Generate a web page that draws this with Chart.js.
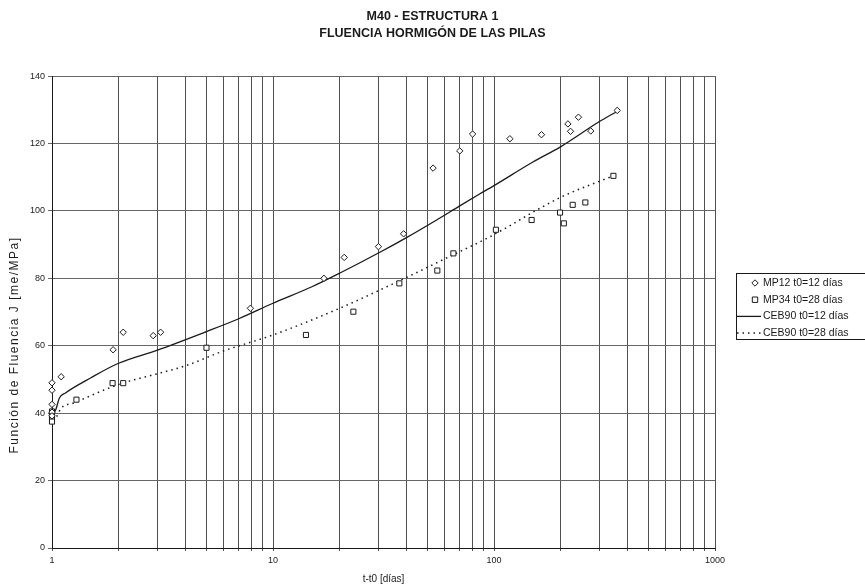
<!DOCTYPE html>
<html>
<head>
<meta charset="utf-8">
<script src="https://cdn.jsdelivr.net/npm/chart.js@4.4.1/dist/chart.umd.min.js"></script>
<style>
  html, body { margin: 0; padding: 0; background: #fff; }
  #wrap { width: 865px; height: 585px; }
</style>
</head>
<body>
<div id="wrap"><canvas id="fluencia"></canvas></div>
<script>
// MP12 t0=12 días (diamonds)
const mp12T = [1.0, 1.0, 1.0, 1.0, 1.0, 1.1, 1.89, 2.1, 2.87, 3.1, 7.9, 17, 21, 30, 39, 53, 70, 80, 118, 164, 216, 222, 241, 274, 361];
const mp12J = [49, 46.8, 42.6, 40.3, 39.2, 50.8, 58.8, 64, 63, 64, 71.1, 80, 86.2, 89.4, 93.2, 112.7, 117.8, 122.8, 121.4, 122.6, 125.8, 123.6, 127.8, 123.7, 129.8];

// MP34 t0=28 días (squares)
const mp34T = [1.0, 1.0, 1.0, 1.0, 1.29, 1.88, 2.1, 5.0, 14.1, 23.1, 37.3, 55.4, 65.5, 102, 148, 199, 207, 227, 259, 347];
const mp34J = [40.5, 39.5, 38.6, 37.5, 44, 48.9, 48.9, 59.4, 63.2, 70.1, 78.5, 82.3, 87.4, 94.4, 97.3, 99.5, 96.3, 101.8, 102.5, 110.4];

// CEB90 t0=12 días (solid line)
const ceb12T = [1.0, 1.04, 1.08, 1.15, 1.5, 2, 3, 5, 7, 10, 15, 20, 30, 40, 55, 70, 86, 100, 150, 200, 300, 360];
const ceb12J = [39.5, 41, 44.5, 46, 50.5, 54.8, 58.7, 64.2, 68, 72.6, 77.5, 81.5, 87.5, 92, 97.3, 101.5, 105, 107.5, 114.5, 119, 126.5, 129.5];

// CEB90 t0=28 días (dotted line)
const ceb28T = [1.05, 1.1, 1.25, 2, 3, 4, 6, 10, 20, 38, 60, 95, 200, 350];
const ceb28J = [39, 41.5, 43, 48.5, 51.7, 54, 58.5, 63.2, 71.1, 79.5, 85.8, 92.2, 104, 110.5];

const seriesLabels = ['MP12 t0=12 días', 'MP34 t0=28 días', 'CEB90 t0=12 días', 'CEB90 t0=28 días'];
const xLabels = [1, 10, 100, 1000];
const yTicks = [0, 20, 40, 60, 80, 100, 120, 140];
const titleLines = ['M40 - ESTRUCTURA 1', 'FLUENCIA HORMIGÓN DE LAS PILAS'];
const yAxisTitle = 'Función de Fluencia J [me/MPa]';

const ink = '#1a1a1a';
const fontFam = '"Liberation Sans", Arial, sans-serif';

const pts = (t, j) => t.map((v, i) => ({ x: v, y: j[i] }));

// every log gridline 1,2,...,9,10,20,...,1000
const gridValues = [];
for (let d = 1; d < 1000; d *= 10) {
  for (let k = 1; k < 10; k++) gridValues.push(k * d);
}
gridValues.push(1000);

// title centred on the whole page, not just the plot
const wideTitle = {
  id: 'wideTitle',
  afterLayout(chart) {
    const t = chart.titleBlock;
    if (t) {
      t.left = 0;
      t.right = chart.width;
      t.width = chart.width;
    }
  }
};

// y axis title sits a bit low and spread out in the original
const yTitle = {
  id: 'yTitle',
  afterDraw(chart, args, opts) {
    const ctx = chart.ctx;
    ctx.save();
    ctx.translate(opts.x, opts.y);
    ctx.rotate(-Math.PI / 2);
    ctx.font = opts.font;
    if ('letterSpacing' in ctx) ctx.letterSpacing = opts.spacing;
    ctx.textAlign = 'center';
    ctx.textBaseline = 'middle';
    ctx.fillStyle = ink;
    ctx.fillText(opts.text, 0, 0);
    ctx.restore();
  }
};

// legend in a framed box, like the spreadsheet original
const boxLegend = {
  id: 'boxLegend',
  afterDraw(chart, args, opts) {
    const ctx = chart.ctx;
    ctx.save();
    ctx.strokeStyle = ink;
    ctx.lineWidth = 1;
    ctx.strokeRect(opts.x + 0.5, opts.y + 0.5, opts.width, opts.height);
    ctx.font = '10.5px ' + fontFam;
    ctx.textBaseline = 'middle';
    ctx.fillStyle = ink;
    chart.data.datasets.forEach((ds, i) => {
      const y = opts.y + opts.firstRow + i * opts.rowGap;
      ctx.beginPath();
      if (ds.showLine) {
        ctx.setLineDash(ds.borderDash || []);
        ctx.lineWidth = ds.borderWidth;
        ctx.moveTo(opts.x + 1, y);
        ctx.lineTo(opts.textX - 2, y);
        ctx.stroke();
        ctx.setLineDash([]);
      } else {
        const r = ds.pointRadius;
        ctx.lineWidth = 1;
        if (ds.pointStyle === 'rectRot') {
          ctx.moveTo(opts.markX, y - r);
          ctx.lineTo(opts.markX + r, y);
          ctx.lineTo(opts.markX, y + r);
          ctx.lineTo(opts.markX - r, y);
          ctx.closePath();
        } else {
          const s = r * 0.75;
          ctx.rect(opts.markX - s, y - s, 2 * s, 2 * s);
        }
        ctx.stroke();
      }
      ctx.fillText(ds.label, opts.textX, y);
    });
    ctx.restore();
  }
};

new Chart(document.getElementById('fluencia'), {
  type: 'scatter',
  data: {
    datasets: [
      {
        label: seriesLabels[0],
        data: pts(mp12T, mp12J),
        pointStyle: 'rectRot',
        pointRadius: 3.2,
        borderColor: ink,
        backgroundColor: '#fff',
        borderWidth: 1,
        showLine: false,
        clip: false
      }, {
        label: seriesLabels[1],
        data: pts(mp34T, mp34J),
        pointStyle: 'rect',
        pointRadius: 3.6,
        borderColor: ink,
        backgroundColor: '#fff',
        borderWidth: 1,
        showLine: false,
        clip: false
      }, {
        label: seriesLabels[2],
        data: pts(ceb12T, ceb12J),
        showLine: true,
        pointRadius: 0,
        borderColor: ink,
        borderWidth: 1.3,
        cubicInterpolationMode: 'monotone'
      }, {
        label: seriesLabels[3],
        data: pts(ceb28T, ceb28J),
        showLine: true,
        pointRadius: 0,
        borderColor: ink,
        borderWidth: 1.5,
        borderDash: [1.5, 4],
        cubicInterpolationMode: 'monotone'
      }
    ]
  },
  options: {
    responsive: true,
    maintainAspectRatio: false,
    animation: false,
    layout: { padding: { left: 0, right: 150, top: 0, bottom: 0 } },
    plugins: {
      legend: { display: false },
      tooltip: { enabled: false },
      title: {
        display: true,
        text: titleLines,
        color: ink,
        font: { family: fontFam, size: 12.5, weight: 'bold', lineHeight: 1.33 },
        padding: { top: 8.4, bottom: 34.4 }
      },
      yTitle: { text: yAxisTitle, x: 15, y: 345, font: '12px ' + fontFam, spacing: '1.5px' },
      boxLegend: { x: 736, y: 273, width: 140, height: 66, firstRow: 10, rowGap: 16.7, markX: 755, textX: 763 }
    },
    scales: {
      x: {
        type: 'logarithmic',
        min: 1,
        max: 1000,
        afterBuildTicks(scale) { scale.ticks = gridValues.map(v => ({ value: v })); },
        afterFit(scale) { scale.height = 37; },
        ticks: {
          autoSkip: false,
          maxRotation: 0,
          padding: 4,
          color: ink,
          font: { family: fontFam, size: 9 },
          callback: v => xLabels.includes(v) ? String(v) : ''
        },
        grid: { color: '#505050', lineWidth: 1, tickLength: 3 },
        border: { color: ink },
        title: { display: true, text: 't-t0 [días]', color: ink, font: { family: fontFam, size: 10 }, padding: 0 }
      },
      y: {
        min: 0,
        max: 140,
        afterBuildTicks(scale) { scale.ticks = yTicks.map(v => ({ value: v })); },
        afterFit(scale) { scale.width = 52; },
        ticks: { padding: 3, color: ink, font: { family: fontFam, size: 9 } },
        grid: { color: '#666', lineWidth: 1, tickLength: 4 },
        border: { color: ink }
      }
    }
  },
  plugins: [wideTitle, yTitle, boxLegend]
});
</script>
</body>
</html>
